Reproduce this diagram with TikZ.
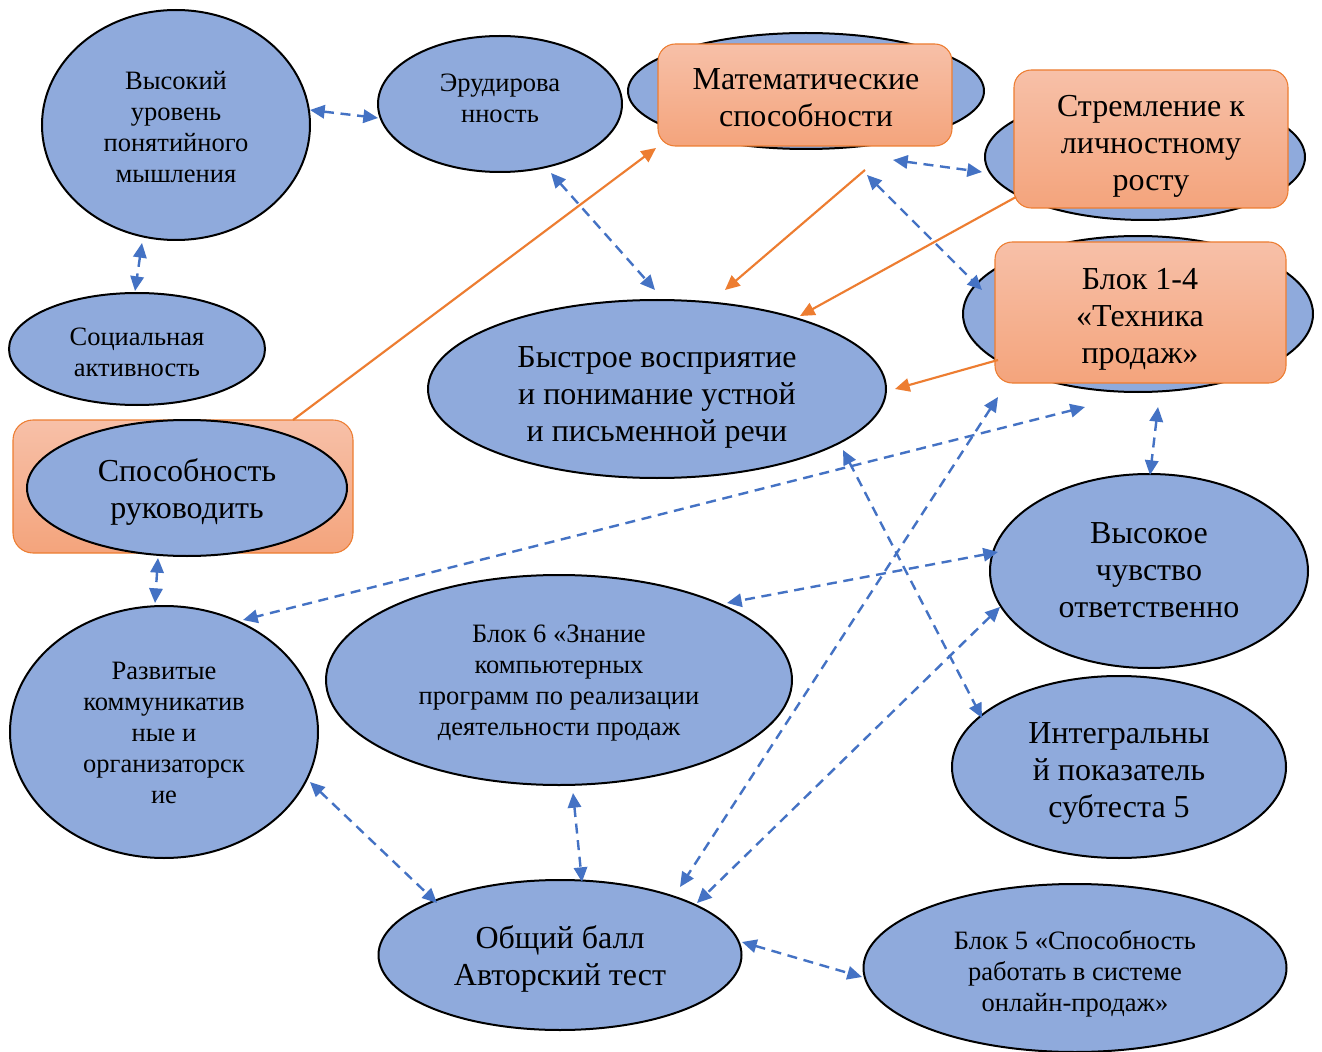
\documentclass[tikz,border=0pt]{standalone}
\usepackage{fontspec}
\setmainfont{Liberation Serif}
\usetikzlibrary{shapes.geometric,arrows.meta,calc}
\definecolor{ovfill}{RGB}{143,170,220}
\definecolor{arrblue}{RGB}{68,114,196}
\definecolor{arrorange}{RGB}{237,125,49}
\definecolor{boxtop}{RGB}{247,192,168}
\definecolor{boxbot}{RGB}{244,164,124}
\newcommand{\pxu}{0.75pt}
\begin{document}
\begin{tikzpicture}[x=0.75pt,y=-0.75pt,
  ov/.style={ellipse, draw=black, line width=1.5pt, fill=ovfill, inner sep=0pt},
  obox/.style={rectangle, rounded corners=13pt, draw=arrorange, line width=0.8pt, top color=boxtop, bottom color=boxbot, inner sep=0pt},
  smalltxt/.style={font=\fontsize{19.9pt}{23.25pt}\selectfont, align=center, inner sep=0pt},
  bigtxt/.style={font=\fontsize{24pt}{27.75pt}\selectfont, align=center, inner sep=0pt},
  dlink/.style={arrblue, line width=1.8pt, dash pattern=on 7.5pt off 5pt, {Triangle[length=11pt,width=10pt]}-{Triangle[length=11pt,width=10pt]}},
  olink/.style={arrorange, line width=1.6pt, -{Triangle[length=11pt,width=10pt]}}]
\useasboundingbox (0,0) rectangle (1322,1052);
\fill[white] (0,0) rectangle (1322,1052);

% ellipses
\node[ov, minimum width=268*\pxu, minimum height=230*\pxu] (n1) at (176,125) {};
\node[ov, minimum width=244*\pxu, minimum height=136*\pxu] (n2) at (500,104) {};
\node[ov, minimum width=356*\pxu, minimum height=116*\pxu] (n3) at (806,91) {};
\node[ov, minimum width=320*\pxu, minimum height=126*\pxu] (n4) at (1145,157) {};
\node[ov, minimum width=350*\pxu, minimum height=156*\pxu] (n5) at (1138,314) {};
\node[ov, minimum width=256*\pxu, minimum height=112*\pxu] (n6) at (137,349) {};
\node[ov, minimum width=458*\pxu, minimum height=178*\pxu] (n7) at (657,389) {};
\node[ov, minimum width=318*\pxu, minimum height=194*\pxu] (n9) at (1149,571) {};
\node[ov, minimum width=308*\pxu, minimum height=252*\pxu] (n10) at (164,732) {};
\node[ov, minimum width=466*\pxu, minimum height=210*\pxu] (n11) at (559,680) {};
\node[ov, minimum width=334*\pxu, minimum height=182*\pxu] (n12) at (1119,767) {};
\node[ov, minimum width=363*\pxu, minimum height=150*\pxu] (n13) at (560,955) {};
\node[ov, minimum width=423*\pxu, minimum height=168*\pxu] (n14) at (1075,968) {};

% leader box behind ellipse
\node[obox, rounded corners=15pt, minimum width=340*\pxu, minimum height=133*\pxu] (b8) at (183,486.5) {};
\node[ov, minimum width=320*\pxu, minimum height=136*\pxu] (n8) at (187,488) {};

% orange boxes over ellipses
\node[obox, minimum width=294*\pxu, minimum height=102*\pxu] (b3) at (805,95) {};
\node[obox, minimum width=274*\pxu, minimum height=138*\pxu] (b4) at (1151,139) {};
\node[obox, minimum width=291*\pxu, minimum height=141*\pxu] (b5) at (1140.5,312.5) {};

% texts
\node[smalltxt] (t1) at (176,127) {Высокий\\уровень\\понятийного\\мышления};
\node[smalltxt] (t2) at (500,98) {Эрудирова\\нность};
\node[bigtxt] (t3) at (806,98) {Математические\\способности};
\node[bigtxt] (t4) at (1151,146) {Стремление к\\личностному\\росту};
\node[bigtxt] (t5) at (1140,319) {Блок 1-4\\«Техника\\продаж»};
\node[smalltxt] (t6) at (137,352) {Социальная\\активность};
\node[bigtxt] (t7) at (657,397) {Быстрое восприятие\\и понимание устной\\и письменной речи};
\node[bigtxt] (t8) at (187,492) {Способность\\руководить};
\node[bigtxt] (t9) at (1149,570) {Высокое\\чувство\\ответственно};
\node[smalltxt] (t10) at (164,733) {Развитые\\коммуникатив\\ные и\\организаторск\\ие};
\node[smalltxt] (t11) at (559,683) {Блок 6 «Знание\\компьютерных\\программ по реализации\\деятельности продаж};
\node[bigtxt] (t12) at (1119,773) {Интегральны\\й показатель\\субтеста 5};
\node[bigtxt] (t13) at (560,959) {Общий балл\\Авторский тест};
\node[smalltxt] (t14) at (1075,974) {Блок 5 «Способность\\работать в системе\\онлайн-продаж»};

% blue dashed connectors
\draw[dlink] ($(n1)+(134,-15)$) -- ($(n2)+(-122,14)$);
\draw[dlink] ($(n1)+(-34,118)$) -- ($(n6)+(-2,-58)$);
\draw[dlink] ($(n2)+(51,69)$) -- ($(n7)+(-2,-99)$);
\draw[dlink] ($(b3)+(88,65)$) -- ($(n4)+(-163,15)$);
\draw[dlink] ($(b3)+(62,80)$) -- ($(n5)+(-156,-24)$);
\draw[dlink] ($(n5)+(20,93)$) -- ($(n9)+(1,-96)$);
\draw[dlink] ($(n5)+(-53,93)$) -- ($(n10)+(79,-112)$);
\draw[dlink] ($(n8)+(-29,70)$) -- ($(n10)+(-9,-129)$);
\draw[dlink] ($(n9)+(-151,-19)$) -- ($(n11)+(168,-77)$);
\draw[dlink] ($(n7)+(186,61)$) -- ($(n12)+(-137,-49)$);
\draw[dlink] ($(n5)+(-140,83)$) -- ($(n13)+(120,-68)$);
\draw[dlink] ($(n9)+(-149,36)$) -- ($(n13)+(137,-52)$);
\draw[dlink] ($(n10)+(146,50)$) -- ($(n13)+(-123,-52)$);
\draw[dlink] ($(n11)+(14,113)$) -- ($(n13)+(22,-73)$);
\draw[dlink] ($(n13)+(182,-13)$) -- ($(n14)+(-213,9)$);

% orange connectors
\draw[olink] ($(b8)+(110,-66.5)$) -- ($(b3)+(-149,53)$);
\draw[olink] ($(b3)+(60,75)$) -- ($(n7)+(68,-99)$);
\draw[olink] ($(b4)+(-135,58)$) -- ($(n7)+(143,-73)$);
\draw[olink] ($(b5)+(-142.5,47.5)$) -- ($(n7)+(238,0)$);
\end{tikzpicture}
\end{document}
